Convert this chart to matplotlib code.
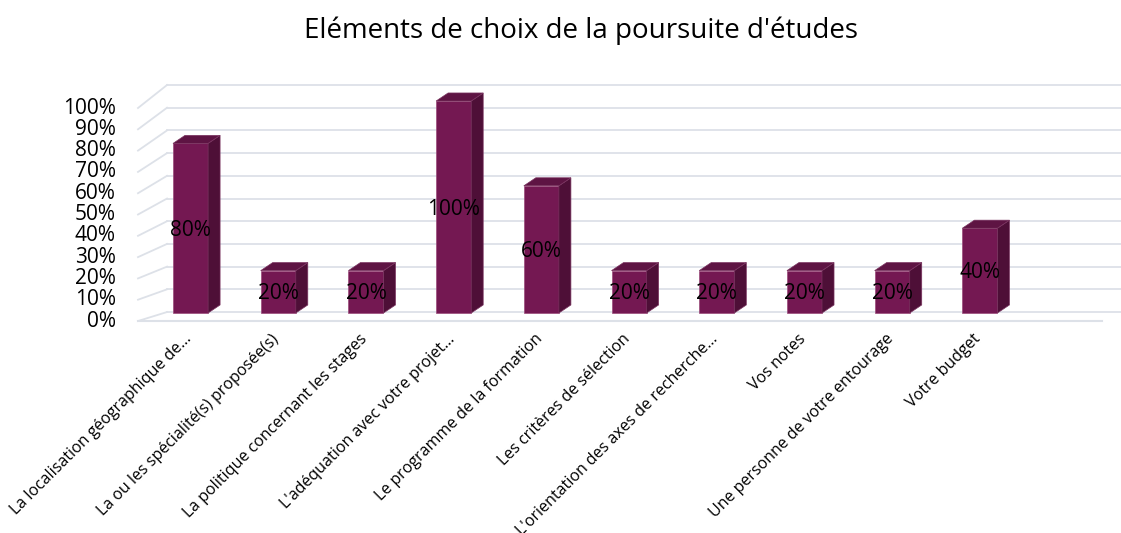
import matplotlib.pyplot as plt
import matplotlib.transforms as mtransforms
from matplotlib.patches import Polygon
import numpy as np

plt.rcParams['font.family'] = ['Open Sans', 'DejaVu Sans']

categories = [
    "La localisation géographique de...",
    "La ou les spécialité(s) proposée(s)",
    "La politique concernant les stages",
    "L'adéquation avec votre projet...",
    "Le programme de la formation",
    "Les critères de sélection",
    "L'orientation des axes de recherche...",
    "Vos notes",
    "Une personne de votre entourage",
    "Votre budget",
]
values = [0.80, 0.20, 0.20, 1.00, 0.60, 0.20, 0.20, 0.20, 0.20, 0.40]
y_ticks = [0.0, 0.1, 0.2, 0.3, 0.4, 0.5, 0.6, 0.7, 0.8, 0.9, 1.0]
y_labels = ["0%", "10%", "20%", "30%", "40%", "50%", "60%", "70%", "80%", "90%", "100%"]

# pseudo 3d look (Excel style)
FRONT = '#741852'
SIDE = '#4e0f37'
TOP = '#5e1443'
GRID = '#dde1e8'
BAR_W = 0.4
DX, DY = 0.137, 0.038          # bar depth
X_FRONT, X_WALL, X_END, X_FLOOR_END = -0.599, -0.268, 10.61, 10.393
WALL_Y0, WALL_K = 0.0047, 1.0708
FRONT_Y0, FRONT_K = -0.0377, 1.0047

fig = plt.figure(figsize=(11.21, 5.33), dpi=100)
ax = fig.add_axes([0.1231, 0.3968, 0.86, 0.4614])
ax.set_xlim(X_FRONT, X_FLOOR_END)
ax.set_ylim(-0.04, 1.12)
for s in ax.spines.values():
    s.set_visible(False)

# back wall gridlines + left side diagonals
for v, lab in zip(y_ticks, y_labels):
    yw = WALL_Y0 + WALL_K * v
    yf = FRONT_Y0 + FRONT_K * v
    ax.plot([X_WALL, X_END], [yw, yw], color=GRID, lw=1.3, zorder=1, clip_on=False)
    ax.plot([X_FRONT, X_WALL], [yf, yw], color=GRID, lw=1.3, zorder=1, clip_on=False)
    ax.text(X_FRONT, yf, lab, ha='right', va='center', fontsize=15,
            transform=ax.transData + mtransforms.ScaledTranslation(-22/100, 0, fig.dpi_scale_trans))
# floor front edge
ax.plot([X_FRONT, X_FLOOR_END], [FRONT_Y0, FRONT_Y0], color=GRID, lw=1.5, zorder=1, clip_on=False)

x = np.arange(len(values))
bars = ax.bar(x, values, width=BAR_W, color=FRONT, edgecolor='#9a4a7a', linewidth=0.5, zorder=3)
for xi, v in zip(x, values):
    r = xi + BAR_W / 2
    l = xi - BAR_W / 2
    side = Polygon([(r, 0), (r + DX, DY), (r + DX, v + DY), (r, v)], closed=True,
                   facecolor=SIDE, edgecolor='#7a3460', lw=0.5, zorder=3)
    top = Polygon([(l, v), (l + DX, v + DY), (r + DX, v + DY), (r, v)], closed=True,
                  facecolor=TOP, edgecolor='#7a3460', lw=0.5, zorder=3)
    ax.add_patch(side)
    ax.add_patch(top)
    ax.text(xi, v / 2 - 0.01, f"{v:.0%}", ha='center', va='center', fontsize=15,
            color='black', zorder=5)

ax.set_yticks([])
ax.set_xticks(x)
ax.set_xticklabels(categories, rotation=45, ha='right', rotation_mode='anchor', fontsize=11.5)
ax.tick_params(axis='x', length=0, pad=7)
shift = mtransforms.ScaledTranslation(-7/100, 0, fig.dpi_scale_trans)
for t in ax.get_xticklabels():
    t.set_transform(t.get_transform() + shift)

fig.text(0.518, 0.943, "Eléments de choix de la poursuite d'études", ha='center', va='center',
         fontsize=20)

plt.savefig('out.png', dpi=100)
